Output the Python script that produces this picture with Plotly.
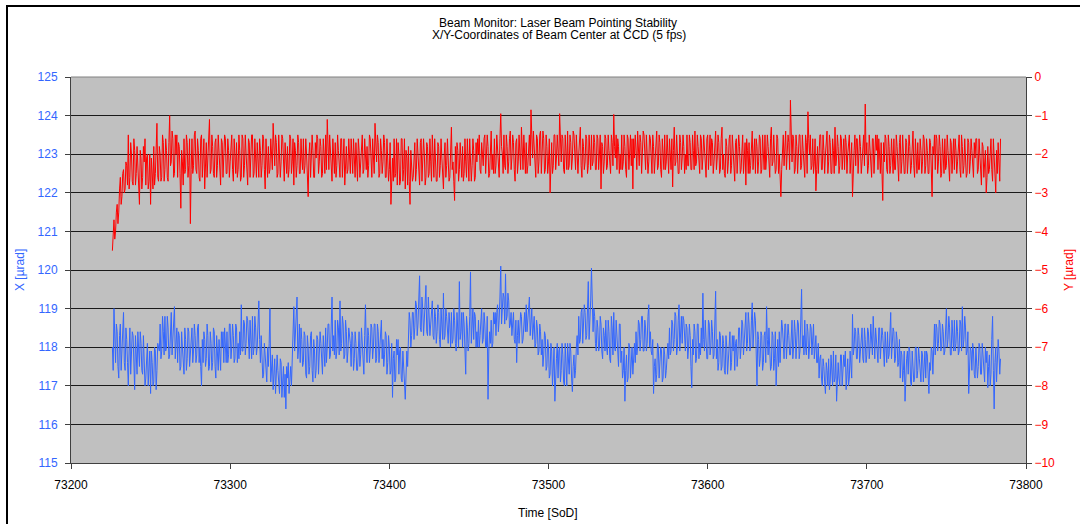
import plotly.graph_objects as go

# ---------------- data ----------------
# samples on whole seconds from T_START, plus the readings half a second later
T_START = 73226.0   # first sample [SoD]
T_STEP = 0.5        # seconds between consecutive samples after merging

y_coord = [
    -4.5, -3.7, -4.0, -3.3, -3.5, -2.6, -3.1, -2.4, -2.9, -2.3,
    -1.5, -2.6, -2.0, -2.8, -1.9, -2.5, -2.2, -3.3, -2.1, -2.6,
    -2.2, -2.8, -2.0, -2.7, -3.3, -2.4, -1.8, -2.5, -1.2, -2.7,
    -2.0, -2.6, -1.7, -2.4, -1.9, -2.7, -1.0, -2.2, -1.6, -2.5,
    -2.0, -2.6, -1.8, -3.4, -2.2, -1.6, -2.4, -1.7, -2.3, -3.8,
    -1.6, -2.3, -1.4, -2.5, -1.9, -2.7, -1.5, -2.2, -2.9, -1.7,
    -2.1, -1.1, -2.4, -1.8, -2.6, -1.6, -2.3, -1.9, -2.8, -1.7,
    -2.2, -1.6, -2.5, -1.9, -2.2, -1.5, -2.7, -2.0, -1.7, -2.4,
    -1.9, -2.6, -1.6, -2.3, -2.0, -2.8, -1.7, -2.2, -1.5, -2.5,
    -2.1, -1.7, -2.6, -1.9, -2.3, -1.6, -2.9, -2.0, -1.8, -2.4,
    -2.0, -1.2, -2.3, -1.7, -2.5, -1.9, -2.2, -1.6, -2.7, -2.0,
    -1.8, -2.4, -1.6, -2.2, -2.8, -1.9, -2.3, -1.7, -2.5, -2.1,
    -1.6, -2.3, -2.0, -3.1, -1.7, -2.2, -1.9, -2.6, -2.1, -1.6,
    -2.2, -1.8, -2.5, -2.0, -1.5, -1.1, -2.4, -1.9, -2.7, -2.1,
    -1.7, -2.3, -1.9, -2.6, -1.6, -2.2, -2.8, -1.8, -2.4, -2.0,
    -1.6, -2.5, -2.1, -1.7, -2.7, -1.9, -2.2, -1.5, -2.4, -2.0,
    -1.8, -2.3, -1.6, -2.6, -2.0, -1.2, -2.2, -1.7, -2.5, -1.9,
    -2.2, -1.7, -2.6, -2.0, -2.4, -3.3, -2.1, -1.6, -2.5, -2.8,
    -2.0, -2.7, -1.6, -2.4, -2.9, -2.1, -1.8, -3.3, -2.3, -2.6,
    -1.7, -2.4, -2.1, -2.8, -1.6, -2.3, -2.0, -2.6, -1.8, -2.5,
    -2.2, -1.5, -2.6, -2.0, -2.7, -1.8, -2.3, -2.1, -2.9, -1.7,
    -2.3, -2.0, -2.6, -1.3, -2.2, -3.2, -2.5, -1.9, -2.4, -2.1,
    -1.8, -2.5, -2.2, -1.6, -2.7, -2.0, -2.3, -1.9, -2.6, -2.2,
    -2.0, -2.4, -1.7, -2.3, -1.5, -2.1, -1.8, -2.5, -1.4, -2.0,
    -1.6, -2.3, -1.9, -2.6, -0.95, -2.0, -1.5, -2.4, -1.8, -2.2,
    -1.4, -2.1, -1.7, -2.7, -1.6, -2.2, -1.9, -1.3, -2.4, -2.0,
    -1.7, -2.3, -1.5, -0.85, -2.1, -1.8, -2.6, -1.6, -2.2, -1.4,
    -2.0, -1.6, -2.4, -1.8, -2.2, -3.0, -1.7, -2.3, -1.5, -2.1,
    -1.8, -0.95, -2.2, -1.6, -2.5, -1.9, -1.4, -2.3, -1.7, -2.1,
    -1.5, -2.4, -1.9, -2.0, -1.3, -2.6, -1.8, -2.2, -1.6, -2.3,
    -1.9, -1.5, -2.2, -1.7, -2.4, -1.6, -2.0, -2.9, -1.8, -2.2,
    -1.6, -2.3, -1.9, -2.5, -1.7, -0.97, -2.1, -2.4, -1.8, -2.0,
    -1.5, -2.2, -1.8, -2.6, -1.6, -2.0, -2.3, -2.9, -2.1, -1.9,
    -1.4, -2.3, -1.7, -2.1, -1.5, -2.4, -1.9, -2.2, -1.6, -2.5,
    -1.8, -2.0, -1.4, -2.3, -1.7, -2.6, -1.9, -1.5, -2.2, -2.0,
    -1.6, -2.4, -2.85, -1.3, -2.2, -1.9, -2.5, -1.7, -2.1, -1.8,
    -2.0, -1.5, -2.3, -1.7, -2.4, -1.9, -1.4, -2.2, -1.8, -2.5,
    -1.6, -2.1, -1.9, -2.6, -1.5, -2.0, -2.3, -1.7, -2.2, -1.4,
    -2.1, -1.7, -2.4, -1.3, -2.0, -2.6, -1.8, -2.2, -1.5, -2.3,
    -1.9, -2.7, -1.6, -2.1, -1.8, -2.4, -1.5, -2.2, -2.8, -1.9,
    -1.7, -2.3, -1.4, -2.0, -2.5, -1.8, -2.2, -1.6, -2.4, -2.0,
    -1.5, -2.1, -1.8, -2.6, -1.3, -2.2, -1.9, -2.4, -1.6, -2.0,
    -3.1, -1.9, -2.3, -1.4, -2.0, -1.7, -0.6, -2.2, -1.6, -2.4,
    -1.8, -2.1, -1.5, -2.3, -1.9, -2.6, -1.7, -0.9, -2.0, -2.4,
    -1.6, -2.2, -2.95, -1.8, -2.1, -1.5, -2.4, -1.9, -2.0, -1.4,
    -2.2, -1.7, -2.5, -1.9, -1.3, -2.1, -1.8, -2.3, -1.6, -2.0,
    -2.4, -1.7, -2.0, -1.5, -2.2, -3.1, -1.9, -2.3, -1.6, -2.1,
    -1.8, -2.2, -1.5, -0.7, -1.7, -2.3, -1.9, -2.6, -1.6, -2.1,
    -1.9, -2.4, -2.0, -1.7, -3.2, -2.2, -1.6, -2.5, -1.8, -2.3,
    -2.0, -1.6, -2.4, -1.8, -2.7, -1.5, -2.2, -1.9, -2.5, -1.7,
    -2.1, -1.8, -2.3, -1.4, -2.6, -2.0, -1.7, -2.4, -1.9, -2.2,
    -1.6, -2.3, -1.9, -2.5, -1.7, -3.1, -2.0, -2.4, -1.6, -2.2,
    -1.8, -2.5, -2.0, -1.6, -2.3, -1.9, -2.7, -1.7, -2.1, -2.4,
    -1.9, -2.2, -1.5, -2.6, -1.8, -2.3, -2.0, -2.5, -1.7, -2.2,
    -1.9, -2.6, -2.1, -1.6, -2.4, -2.0, -2.8, -1.8, -2.3, -3.0,
    -1.8, -2.4, -1.6, -2.7, -2.0, -3.0, -2.5, -2.2, -1.6,
]

y_coord_half = [
    -4.1, -4.2, -3.5, -3.8, -2.9, -3.3, -2.5, -3.0, -2.2, -2.8,
    -2.9, -1.7, -2.7, -1.6, -2.8, -1.8, -2.6, -1.9, -2.9, -1.8,
    -1.6, -2.1, -2.9, -2.0, -2.1, -2.9, -2.8, -1.7, -2.6, -1.8,
    -2.7, -1.5, -2.7, -1.6, -2.6, -1.7, -2.3, -1.4, -2.6, -1.5,
    -1.5, -1.7, -2.5, -1.9, -2.8, -2.5, -1.5, -2.6, -1.6, -2.4,
    -2.5, -1.5, -2.4, -1.6, -2.6, -1.6, -2.6, -1.6, -2.0, -2.6,
    -1.6, -2.5, -1.5, -2.5, -1.7, -2.6, -1.5, -2.4, -1.6, -2.6,
    -1.5, -2.5, -1.6, -2.6, -1.7, -2.4, -1.6, -2.5, -2.6, -1.5,
    -2.7, -1.5, -2.6, -1.5, -2.5, -1.6, -2.6, -1.5, -2.6, -1.6,
    -2.6, -2.4, -1.6, -2.6, -1.5, -2.4, -1.6, -2.6, -2.5, -1.6,
    -2.4, -2.0, -1.5, -2.6, -1.5, -2.6, -1.5, -2.4, -1.7, -2.5,
    -2.6, -1.5, -2.5, -1.6, -1.7, -2.6, -1.5, -2.5, -1.6, -2.4,
    -2.5, -1.6, -2.6, -2.0, -2.6, -1.5, -2.6, -1.7, -1.5, -2.5,
    -1.6, -2.6, -1.6, -2.5, -2.4, -2.2, -1.5, -2.6, -1.6, -2.5,
    -2.6, -1.5, -2.5, -1.6, -2.6, -1.6, -2.0, -2.5, -1.6, -2.5,
    -2.3, -1.6, -2.6, -2.5, -1.6, -2.6, -1.6, -2.5, -1.6, -2.4,
    -2.6, -1.5, -2.4, -1.6, -2.5, -2.0, -1.5, -2.6, -1.6, -2.5,
    -1.5, -2.6, -1.6, -2.7, -1.7, -2.2, -2.7, -2.6, -1.6, -1.7,
    -2.8, -1.6, -2.7, -1.6, -1.9, -2.8, -2.7, -1.9, -2.7, -2.2,
    -2.7, -1.6, -2.7, -1.7, -2.7, -1.6, -2.8, -1.7, -2.6, -1.6,
    -2.7, -2.2, -1.6, -2.7, -1.7, -2.6, -1.6, -2.7, -2.0, -2.6,
    -1.6, -2.7, -1.8, -2.4, -2.7, -1.8, -1.7, -2.7, -1.7, -2.6,
    -2.7, -1.6, -2.6, -2.5, -1.6, -2.7, -1.6, -2.7, -1.7, -1.6,
    -1.5, -2.5, -2.2, -1.6, -2.5, -1.5, -2.6, -1.6, -2.4, -2.5,
    -2.5, -1.5, -2.4, -1.6, -1.8, -2.5, -2.3, -1.5, -2.5, -1.6,
    -2.4, -1.5, -2.4, -1.7, -2.5, -1.5, -2.4, -2.2, -1.5, -2.5,
    -2.5, -1.6, -2.3, -1.5, -1.4, -2.5, -1.5, -2.5, -1.5, -2.5,
    -1.4, -2.5, -1.5, -2.5, -1.6, -2.1, -2.5, -1.5, -2.4, -1.5,
    -2.3, -1.8, -1.5, -2.4, -1.5, -2.4, -2.4, -1.5, -2.4, -1.4,
    -2.3, -1.5, -2.5, -1.4, -2.3, -1.6, -2.4, -1.5, -2.5, -1.5,
    -2.4, -2.3, -1.5, -2.4, -1.5, -2.4, -1.5, -1.7, -2.5, -1.5,
    -2.4, -1.5, -2.4, -1.5, -2.3, -1.8, -1.5, -1.6, -2.5, -2.4,
    -2.4, -1.5, -2.4, -1.5, -2.4, -1.5, -1.6, -1.6, -1.5, -2.4,
    -2.2, -1.5, -2.5, -1.4, -2.3, -1.5, -2.5, -1.5, -2.4, -1.5,
    -2.5, -1.5, -2.4, -1.5, -2.4, -1.6, -2.4, -2.4, -1.5, -2.5,
    -2.2, -1.6, -1.9, -2.3, -1.5, -2.5, -1.5, -2.4, -1.5, -2.5,
    -2.4, -2.3, -1.5, -2.4, -1.5, -2.4, -2.3, -1.5, -2.4, -1.5,
    -2.4, -1.5, -2.4, -1.6, -2.4, -1.5, -1.6, -2.5, -1.5, -2.4,
    -1.5, -2.5, -1.6, -2.4, -2.5, -1.6, -2.5, -1.6, -2.5, -1.5,
    -2.3, -1.7, -2.5, -1.5, -2.5, -1.6, -2.5, -1.7, -1.6, -2.5,
    -2.5, -1.6, -2.4, -1.6, -1.6, -2.5, -1.5, -2.5, -1.5, -2.4,
    -2.4, -1.5, -2.4, -1.6, -2.3, -1.5, -2.5, -1.5, -2.5, -2.4,
    -2.4, -1.5, -1.6, -2.4, -1.5, -2.4, -1.5, -1.5, -2.5, -1.5,
    -2.5, -1.5, -2.4, -1.5, -2.4, -1.5, -2.5, -1.6, -1.5, -2.3,
    -2.5, -1.6, -2.4, -2.5, -1.5, -2.4, -1.5, -2.5, -1.5, -2.5,
    -1.5, -2.5, -1.6, -2.5, -2.3, -1.5, -2.5, -1.5, -2.4, -1.6,
    -1.5, -2.5, -1.6, -2.5, -1.7, -2.3, -1.5, -1.6, -2.5, -1.5,
    -2.5, -1.6, -2.3, -2.0, -2.5, -1.5, -2.5, -1.6, -2.5, -1.5,
    -1.5, -1.6, -2.5, -2.4, -1.7, -1.5, -2.4, -1.5, -2.5, -1.6,
    -2.5, -2.4, -1.5, -2.5, -1.7, -2.5, -1.5, -2.5, -1.6, -2.5,
    -1.5, -2.5, -1.6, -2.3, -1.6, -2.5, -2.4, -1.6, -2.5, -1.5,
    -2.5, -1.6, -2.5, -1.6, -2.4, -1.8, -1.5, -1.5, -2.5, -1.5,
    -2.6, -1.6, -2.5, -2.4, -1.5, -2.5, -1.6, -2.5, -1.6, -1.6,
    -2.5, -1.6, -2.4, -1.5, -2.5, -1.6, -2.6, -1.6, -2.5, -1.6,
    -2.5, -1.7, -1.6, -2.5, -1.6, -2.6, -1.7, -2.6, -1.9, -2.6,
    -2.5, -1.7, -2.4, -1.6, -2.6, -1.9, -1.7, -2.7,
]

x_coord = [
    118.0, 119.0, 117.6, 118.4, 117.2, 118.6, 117.8, 118.9, 117.4, 118.2,
    117.0, 118.5, 117.7, 118.3, 116.9, 117.9, 118.4, 117.5, 118.1, 117.3,
    117.8, 117.2, 118.1, 117.5, 116.8, 117.6, 117.1, 117.9, 117.4, 118.0,
    118.6, 117.9, 118.4, 118.8, 118.0, 118.5, 117.8, 118.9, 118.2, 119.05,
    118.1, 117.6, 118.3, 117.5, 118.0, 117.3, 118.2, 117.7, 118.4, 117.8,
    118.5, 117.9, 118.3, 117.8, 118.6, 118.0, 117.0, 117.6, 118.2, 117.7,
    118.3, 117.5, 118.1, 117.6, 118.4, 117.2, 117.9, 118.2, 117.4, 118.0,
    117.6, 118.1, 118.4, 117.8, 118.6, 118.0, 118.3, 117.7, 118.5, 118.1,
    118.4, 119.1, 117.9, 118.6, 118.1, 118.7, 117.7, 118.3, 118.8, 118.0,
    118.5, 118.0, 119.2, 117.6, 117.9, 117.3, 117.8, 117.1, 117.5, 119.0,
    117.5, 116.9, 117.7, 117.2, 117.4, 116.8, 117.6, 117.1, 116.7, 116.4,
    117.2, 116.8, 117.5, 117.9, 119.05, 118.4, 119.3, 118.0, 117.6, 118.2,
    117.6, 118.3, 117.2, 118.0, 117.5, 118.4, 117.1, 117.9, 117.4, 118.2,
    117.7, 118.1, 117.3, 117.9, 118.5, 118.0, 118.6, 117.8, 119.3, 118.3,
    118.7, 117.9, 118.5, 119.2, 118.1, 118.6, 117.8, 118.4, 117.9, 118.2,
    117.5, 118.3, 117.7, 118.1, 117.4, 118.4, 117.8, 118.0, 117.3, 119.1,
    117.6, 118.3, 117.9, 118.5, 118.0, 118.6, 117.7, 118.4, 118.1, 118.7,
    118.2, 117.8, 118.3, 117.6, 118.0, 117.4, 116.7, 117.9, 117.2, 117.8,
    117.3, 118.0, 117.1, 117.6, 116.65, 117.9, 118.2, 118.7, 118.3, 118.9,
    118.5, 119.1, 118.6, 119.85, 118.4, 119.0, 118.7, 119.6, 118.3, 118.9,
    118.6, 119.2, 118.2, 118.8, 118.4, 118.9, 118.0, 118.7, 119.4, 118.3,
    118.8, 118.1, 118.6, 118.9, 118.2, 118.7, 117.9, 118.5, 119.7, 118.4,
    118.0, 118.6, 117.3, 118.5, 118.1, 119.95, 118.6, 118.2, 118.8, 118.4,
    118.7, 118.3, 119.0, 118.2, 118.6, 118.0, 116.65, 118.4, 118.7, 118.1,
    118.6, 118.3, 119.1, 118.7, 120.1, 118.9, 119.3, 119.9, 118.8, 119.2,
    118.6, 118.3, 118.9, 118.1, 117.6, 118.7, 118.4, 118.8, 118.2, 118.9,
    119.1, 118.7, 119.3, 118.6, 118.2, 118.8, 118.1, 118.5, 117.9, 118.4,
    118.2, 117.8, 118.3, 117.5, 118.0, 117.3, 117.9, 117.4, 116.6, 117.7,
    117.2, 118.0, 117.4, 117.8, 117.0, 117.6, 118.1, 117.3, 117.9, 116.85,
    117.8, 117.4, 118.3, 118.8, 118.2, 119.0, 118.5, 118.9, 118.3, 119.7,
    118.6, 120.05, 118.4, 118.8, 117.9, 118.5, 118.0, 118.6, 117.7, 118.3,
    118.7, 117.8, 118.4, 117.6, 118.5, 118.9, 117.9, 118.3, 117.5, 118.6,
    117.9, 117.4, 116.6, 117.8, 117.2, 118.0, 117.5, 117.3, 118.1, 118.4,
    118.0, 118.6, 118.2, 118.8, 117.9, 118.5, 118.1, 119.1, 118.4, 117.8,
    116.8, 117.7, 117.3, 118.0, 117.5, 117.9, 117.2, 117.8, 117.4, 118.1,
    118.5, 117.9, 118.6, 118.2, 118.8, 118.0, 119.1, 118.4, 118.1, 118.7,
    117.9, 118.5, 118.0, 118.3, 116.95, 117.8, 118.4, 117.7, 118.6, 118.1,
    118.5, 119.4, 117.9, 118.3, 117.7, 118.6, 118.0, 118.4, 117.8, 119.45,
    118.2, 117.6, 118.3, 117.5, 118.1, 117.3, 118.0, 117.7, 118.4, 117.6,
    117.9, 117.4, 118.2, 117.8, 118.5, 118.0, 118.6, 118.3, 118.9, 118.1,
    118.6, 118.0, 119.15, 118.4, 118.7, 117.0, 118.2, 117.7, 118.3, 117.6,
    118.4, 119.05, 117.8, 118.1, 117.5, 118.3, 117.7, 117.0, 118.2, 118.4,
    118.0, 118.5, 117.7, 118.6, 118.1, 118.3, 117.8, 118.7, 118.0, 118.4,
    118.1, 118.6, 117.9, 119.5, 118.3, 118.7, 117.8, 118.4, 118.0, 118.5,
    118.2, 117.7, 118.3, 117.6, 117.2, 117.8, 117.0, 117.5, 116.8, 117.4,
    117.7, 117.1, 117.5, 117.9, 117.2, 116.6, 117.6, 117.0, 117.8, 117.3,
    117.5, 116.9, 117.7, 117.2, 117.6, 118.85, 118.0, 118.4, 117.7, 118.3,
    117.9, 118.5, 117.6, 118.2, 117.8, 118.4, 118.0, 118.3, 118.8, 117.7,
    118.2, 117.6, 118.5, 118.0, 118.3, 117.5, 118.1, 118.4, 117.8, 118.9,
    118.0, 118.4, 117.7, 118.2, 117.6, 117.2, 117.8, 117.4, 116.6, 117.7,
    117.3, 117.9, 117.0, 117.6, 117.2, 118.0, 117.4, 117.7, 117.1, 117.8,
    117.5, 117.2, 117.8, 116.8, 117.4, 117.9, 118.3, 117.8, 118.5, 118.1,
    118.6, 118.0, 118.4, 117.9, 119.0, 118.2, 118.5, 117.8, 118.3, 118.7,
    118.1, 118.4, 117.9, 118.6, 119.05, 118.2, 118.5, 117.9, 116.8, 118.0,
    117.4, 117.9, 117.2, 117.7, 117.5, 118.0, 117.3, 117.8, 117.1, 117.6,
    116.95, 117.8, 117.3, 118.8, 116.4, 118.0, 117.5, 117.9, 117.7,
]

x_coord_half = [
    117.4, 118.3, 118.6, 117.5, 118.3, 117.4, 118.5, 117.6, 118.5, 117.6,
    117.9, 117.3, 118.4, 117.4, 118.3, 117.3, 117.6, 118.4, 117.4, 118.3,
    117.0, 118.0, 117.0, 117.9, 117.9, 117.0, 118.0, 116.9, 118.1, 117.9,
    117.7, 118.8, 117.8, 117.9, 118.8, 117.7, 118.7, 117.8, 118.8, 117.7,
    118.5, 118.4, 117.4, 118.4, 117.5, 118.5, 117.4, 118.5, 117.5, 118.3,
    117.6, 118.6, 117.6, 118.5, 117.6, 117.5, 118.2, 118.4, 117.5, 118.6,
    117.4, 118.4, 117.4, 118.5, 117.5, 118.3, 117.4, 117.6, 118.4, 118.4,
    118.5, 117.6, 117.6, 118.6, 117.7, 118.6, 117.6, 118.6, 117.6, 117.7,
    117.8, 117.9, 118.7, 117.8, 118.8, 117.8, 118.7, 117.7, 117.8, 118.8,
    117.8, 118.6, 118.2, 118.3, 117.2, 118.1, 117.2, 118.0, 118.1, 117.1,
    117.8, 117.6, 116.8, 117.8, 116.9, 117.7, 116.7, 117.5, 117.3, 117.5,
    117.6, 117.4, 117.0, 118.4, 117.9, 119.0, 117.7, 118.6, 118.5, 117.5,
    118.4, 117.3, 118.3, 117.3, 118.3, 117.4, 118.2, 117.2, 118.3, 117.3,
    118.4, 117.4, 118.3, 117.5, 117.6, 118.6, 117.7, 118.6, 117.9, 117.8,
    117.7, 118.7, 117.8, 117.9, 118.8, 117.7, 118.7, 117.6, 118.5, 118.1,
    118.4, 117.4, 118.4, 117.4, 118.3, 117.5, 118.5, 117.4, 118.3, 118.0,
    118.5, 117.6, 118.6, 117.7, 118.6, 117.6, 118.6, 117.6, 118.6, 117.7,
    117.5, 118.4, 117.3, 118.3, 117.3, 118.1, 117.7, 117.1, 118.2, 118.2,
    117.9, 117.2, 117.9, 117.1, 117.4, 117.5, 118.9, 118.0, 118.9, 118.2,
    119.2, 118.3, 119.2, 118.5, 119.3, 118.3, 119.2, 118.4, 119.3, 118.3,
    119.1, 118.3, 119.0, 118.1, 119.1, 118.2, 119.0, 118.2, 118.2, 119.0,
    118.2, 118.9, 118.0, 118.1, 119.0, 118.1, 118.9, 118.0, 118.2, 118.9,
    118.9, 118.0, 118.8, 117.9, 118.8, 118.1, 119.0, 118.9, 118.0, 118.0,
    118.0, 118.9, 118.1, 118.9, 118.0, 118.8, 117.9, 118.1, 118.0, 118.9,
    118.9, 118.9, 118.4, 119.3, 118.6, 119.4, 118.6, 118.7, 119.4, 118.5,
    118.9, 118.8, 118.2, 118.7, 118.3, 118.1, 118.9, 118.1, 118.8, 118.4,
    118.4, 119.2, 118.3, 119.0, 118.7, 118.0, 118.7, 117.8, 118.6, 117.8,
    117.5, 118.4, 117.4, 118.2, 117.2, 118.1, 117.0, 118.0, 117.6, 118.1,
    117.9, 117.1, 118.1, 117.1, 118.1, 117.0, 117.4, 118.1, 117.2, 117.5,
    117.2, 118.0, 117.8, 118.1, 118.9, 118.1, 119.1, 118.2, 118.9, 118.2,
    119.2, 118.9, 119.0, 118.1, 118.7, 117.9, 118.8, 117.9, 118.5, 117.9,
    118.0, 118.7, 117.7, 118.8, 117.8, 118.0, 118.7, 117.7, 118.6, 117.6,
    117.2, 118.0, 117.4, 117.1, 118.1, 117.2, 118.0, 117.9, 117.6, 117.8,
    118.7, 117.9, 118.8, 117.9, 118.7, 117.9, 118.8, 118.0, 117.9, 118.2,
    117.5, 117.1, 118.1, 117.2, 118.0, 117.1, 118.0, 117.2, 118.0, 117.7,
    117.8, 118.7, 117.9, 118.9, 117.8, 118.7, 117.9, 118.8, 118.8, 118.0,
    118.6, 117.7, 118.6, 117.5, 118.2, 118.6, 117.6, 118.6, 117.7, 117.8,
    118.0, 118.2, 118.7, 117.7, 118.7, 117.8, 118.7, 117.7, 118.6, 117.7,
    117.4, 118.4, 117.4, 118.3, 117.4, 118.3, 117.3, 118.3, 117.4, 118.3,
    118.3, 118.1, 117.5, 118.5, 117.7, 118.7, 117.8, 118.8, 117.9, 118.9,
    117.9, 118.7, 118.0, 118.9, 117.8, 118.4, 117.5, 118.4, 117.4, 118.3,
    117.6, 118.2, 118.5, 117.4, 118.4, 117.4, 118.4, 118.1, 117.5, 117.6,
    118.7, 117.8, 118.6, 117.7, 118.6, 117.8, 118.6, 117.7, 118.7, 117.7,
    118.7, 117.7, 118.5, 118.0, 117.8, 118.0, 118.6, 117.7, 118.6, 117.8,
    118.6, 118.2, 117.6, 118.1, 117.7, 117.2, 117.7, 117.1, 117.6, 117.0,
    116.9, 117.8, 117.0, 117.1, 117.8, 117.5, 117.2, 117.8, 117.0, 117.8,
    117.9, 117.4, 117.0, 117.9, 117.2, 117.8, 118.5, 117.7, 118.5, 117.6,
    118.4, 117.7, 118.5, 117.6, 118.5, 117.7, 118.6, 117.8, 117.9, 118.5,
    117.7, 118.5, 117.7, 118.5, 117.6, 118.4, 117.6, 117.7, 118.5, 117.7,
    118.5, 117.6, 118.4, 117.5, 118.2, 117.9, 117.1, 117.9, 117.5, 117.9,
    118.0, 117.1, 117.9, 117.1, 118.0, 117.2, 118.0, 117.2, 117.9, 117.1,
    117.9, 117.9, 117.2, 117.6, 118.0, 117.3, 118.6, 118.6, 117.9, 118.7,
    117.9, 118.6, 117.8, 118.6, 118.0, 118.8, 117.8, 118.7, 117.9, 117.9,
    118.7, 117.8, 118.7, 117.9, 118.0, 118.8, 117.8, 118.4, 117.6, 117.9,
    118.1, 117.3, 118.0, 117.2, 118.1, 117.3, 118.1, 117.3, 118.0, 117.9,
    117.5, 117.0, 118.2, 117.4, 117.6, 117.1, 118.2, 117.3,
]


def merge(whole, half):
    """Whole-second readings followed by the reading half a second later."""
    out = []
    for i, v in enumerate(whole):
        out.append(v)
        if i < len(half):
            out.append(half[i])
    return out


x_series = merge(x_coord, x_coord_half)
y_series = merge(y_coord, y_coord_half)
time_x = [T_START + i * T_STEP for i in range(len(x_series))]
time_y = [T_START + i * T_STEP for i in range(len(y_series))]

x_ticks = [73200, 73300, 73400, 73500, 73600, 73700, 73800]

TITLE_1 = "Beam Monitor: Laser Beam Pointing Stability"
TITLE_2 = "X/Y-Coordinates of Beam Center at CCD (5 fps)"

# ---------------- styling ----------------
FONT = "Liberation Sans, Arial, sans-serif"
BLUE = "#3366FF"
RED = "#FF0000"

W, H = 1080, 524
L, R, T, B = 71, 54, 77, 61
PW, PH = W - L - R, H - T - B


def px(xp):
    return (xp - L) / PW


def py(yp):
    return (H - B - yp) / PH


fig = go.Figure()
fig.add_trace(go.Scatter(x=time_x, y=x_series, mode="lines", name="X",
                         line=dict(color=BLUE, width=1), yaxis="y"))
fig.add_trace(go.Scatter(x=time_y, y=y_series, mode="lines", name="Y",
                         line=dict(color=RED, width=1), yaxis="y2"))

fig.update_layout(
    width=W, height=H,
    margin=dict(l=L, r=R, t=T, b=B, pad=0),
    paper_bgcolor="white",
    plot_bgcolor="#C0C0C0",
    showlegend=False,
    font=dict(family=FONT, size=12, color="black"),
    xaxis=dict(
        range=[73200, 73800], tickvals=x_ticks, tickformat="d",
        ticks="outside", ticklen=5,
        tickcolor="#404040", showline=True, linecolor="#404040", linewidth=1,
        showgrid=False, zeroline=False, tickfont=dict(color="black", size=12),
        ticklabelstandoff=6,
    ),
    yaxis=dict(
        range=[115, 125], dtick=1, ticks="outside", ticklen=5,
        tickcolor="#404040", showline=True, linecolor="#404040", linewidth=1,
        showgrid=True, gridcolor="#1a1a1a", gridwidth=1, zeroline=False,
        tickfont=dict(color=BLUE, size=12), ticklabelstandoff=5,
    ),
    yaxis2=dict(
        range=[-10, 0], dtick=1, overlaying="y", side="right", ticks="outside",
        ticklen=5, tickcolor="#404040", showline=True, linecolor="#404040",
        linewidth=1, showgrid=False, zeroline=False,
        tickfont=dict(color=RED, size=12),
    ),
)

annots = [
    dict(text=TITLE_1, x=px(558), y=py(23), font=dict(size=12, color="black")),
    dict(text=TITLE_2, x=px(559), y=py(35), font=dict(size=12, color="black")),
    dict(text="X [µrad]", x=px(20), y=py(270), textangle=-90,
         font=dict(size=12, color=BLUE)),
    dict(text="Y [µrad]", x=px(1069), y=py(270), textangle=-90,
         font=dict(size=12, color=RED)),
    dict(text="Time [SoD]", x=px(548), y=py(513),
         font=dict(size=12, color="black")),
]
for a in annots:
    fig.add_annotation(xref="paper", yref="paper", showarrow=False,
                       xanchor="center", yanchor="middle", **a)

# top edge of the plot area (lighter grey line) and outer chart frame
fig.add_shape(type="line", xref="paper", yref="paper", x0=0, x1=1, y0=1, y1=1,
              line=dict(color="#808080", width=1))
fig.add_shape(type="rect", xref="paper", yref="paper",
              x0=px(7), x1=px(1083), y0=py(530), y1=py(6),
              line=dict(color="black", width=2), fillcolor="rgba(0,0,0,0)")

fig.write_html(
    "out.html",
    config={"displayModeBar": False},
    post_script="document.body.style.margin='0';"
                "document.body.style.overflow='hidden';",
)
